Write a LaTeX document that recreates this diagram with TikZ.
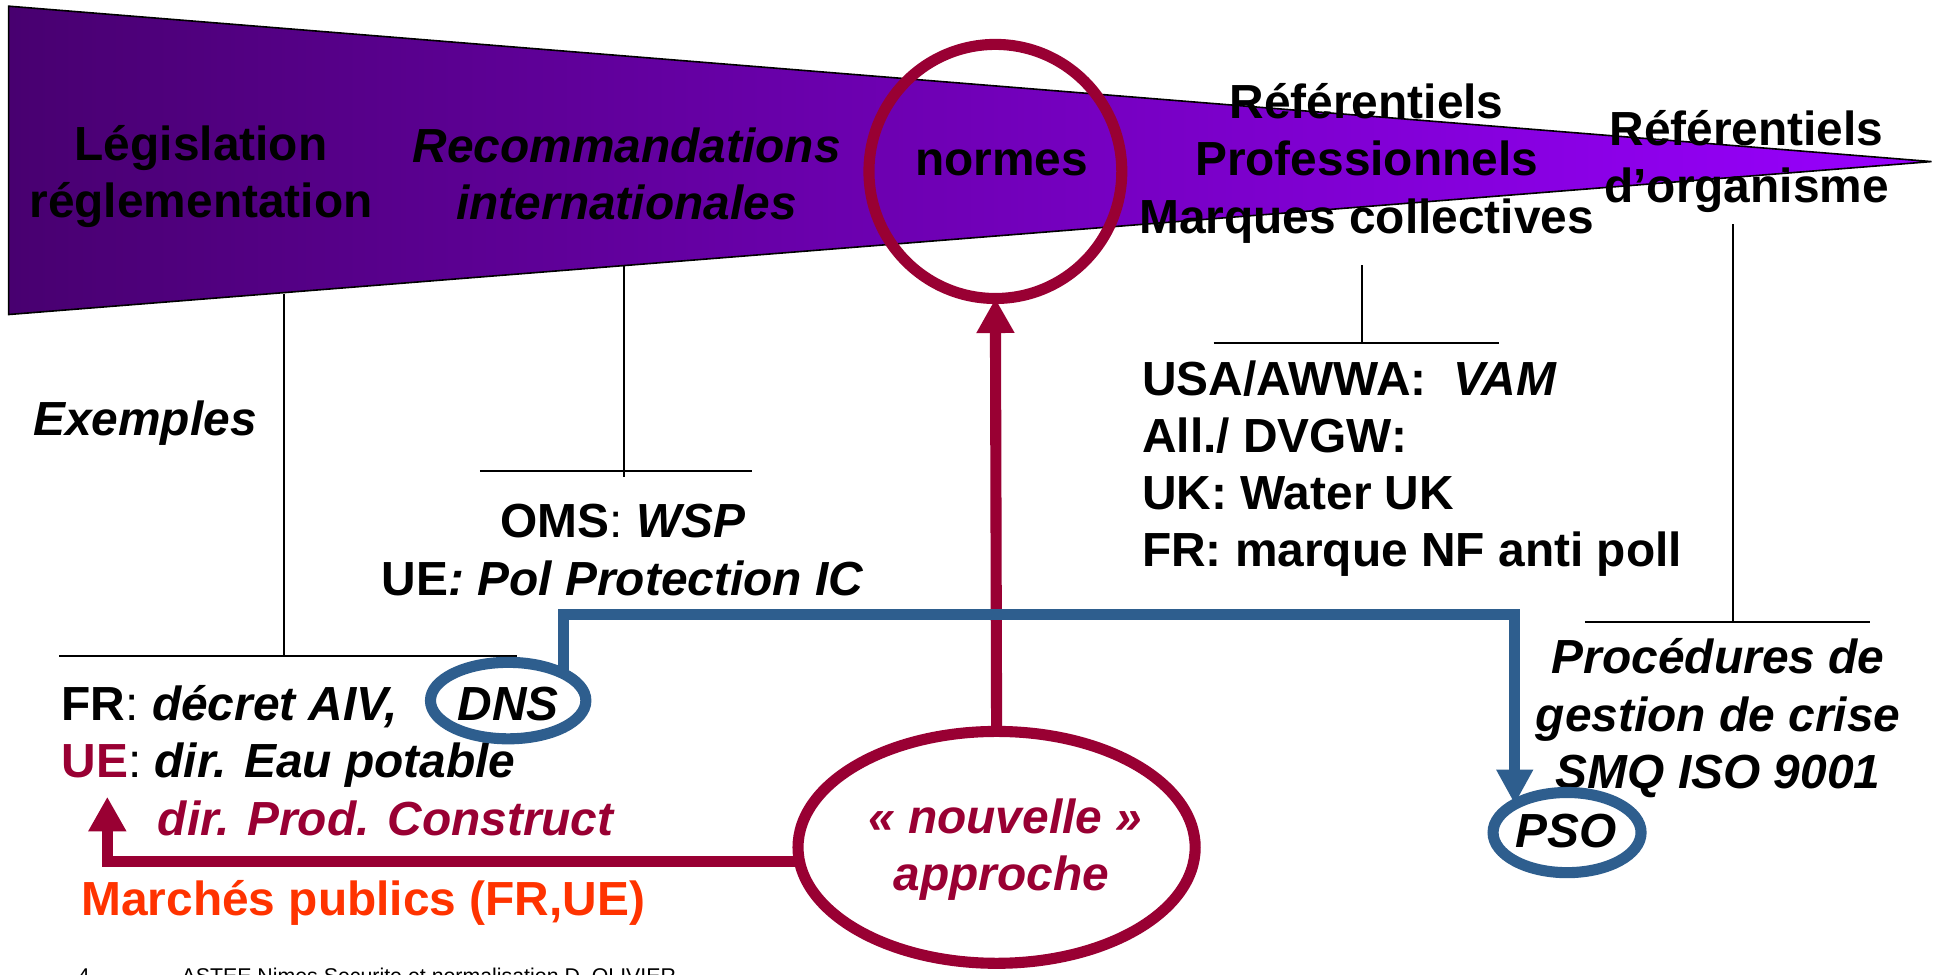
\documentclass[tikz,border=0pt]{standalone}
\usepackage{fontspec}
\setmainfont{Liberation Sans}
\usetikzlibrary{shapes.geometric,arrows.meta}
\definecolor{crim}{RGB}{153,0,51}
\definecolor{bl}{RGB}{46,94,142}
\definecolor{orng}{RGB}{255,51,0}
\definecolor{wl}{RGB}{72,0,112}
\definecolor{wr}{RGB}{153,0,255}
\tikzset{
  lbl/.style={inner sep=0pt, outer sep=0pt, anchor=base, font=\fontsize{38.8pt}{46pt}\selectfont\bfseries},
  lbli/.style={lbl, font=\fontsize{38.8pt}{46pt}\selectfont\bfseries\itshape},
  lbll/.style={lbl, anchor=base west},
  lblli/.style={lbli, anchor=base west},
  ring/.style={ellipse, draw, line width=9pt, inner sep=0pt, outer sep=0pt},
  leader/.style={draw=black, line width=1.5pt},
  redarrow/.style={draw=crim, line width=9pt, -{Triangle[length=28pt,width=29pt]}},
  bluearrow/.style={draw=bl, line width=9pt, -{Triangle[length=28pt,width=28pt]}}
}
\begin{document}
\begin{tikzpicture}[x=1pt,y=-1pt]
\useasboundingbox (0,0) rectangle (1568,790);
\fill[white] (0,0) rectangle (1568,790);
% wedge
\shadedraw[left color=wl, right color=wr, draw=black, line width=1.3pt] (7,5) -- (1566,131) -- (7,255) -- cycle;
% normes ring
\node[ring, draw=crim, minimum width=205pt, minimum height=206pt] (normes) at (807,139) {};
% wedge texts
\node[lbl] (leg1) at (163,130) {Législation};
\node[lbl] (leg2) at (163,176) {réglementation};
\node[lbli] (rec1) at (508,132) {Recommandations};
\node[lbli] (rec2) at (508,178) {internationales};
\node[lbl] (norm) at (812,142) {normes};
\node[lbl] (rp1) at (1108,96) {Référentiels};
\node[lbl] (rp2) at (1108,142) {Professionnels};
\node[lbl] (rp3) at (1108,189) {Marques collectives};
\node[lbl] (ro1) at (1416,118) {Référentiels};
\node[lbl] (ro2) at (1416,164) {d’organisme};
% leader lines
\draw[leader] (230,238) -- (230,532);
\draw[leader] (48,532) -- (419,532);
\draw[leader] (506,215) -- (506,387);
\draw[leader] (389,382) -- (610,382);
\draw[leader] (1104,215) -- (1104,278);
\draw[leader] (984,278) -- (1215,278);
\draw[leader] (1405,182) -- (1405,505);
\draw[leader] (1285,504) -- (1516,504);
% example texts
\node[lblli] (ex) at (27,353) {Exemples};
\node[lbl] (oms) at (505,436) {OMS{\mdseries:} \textit{WSP}};
\node[lbl] (uepol) at (505,483) {UE\textit{: Pol Protection IC}};
\node[lbll] (usa) at (926,321) {USA/AWWA:\ \ \textit{VAM}};
\node[lbll] (all) at (926,367) {All./ DVGW:};
\node[lbll] (uk) at (926,413) {UK: Water UK};
\node[lbll] (frm) at (926,459) {FR: marque NF anti poll};
\node[lbli] (pr1) at (1393,546) {Procédures de};
\node[lbli] (pr2) at (1393,593) {gestion de crise};
\node[lbli] (pr3) at (1393,639) {SMQ ISO 9001};
\node[lbll] (fr) at (50,584) {FR{\mdseries:} \textit{décret AIV,}};
\node[lbll] (ue) at (50,630) {\textcolor{crim}{UE}{\mdseries:} \textit{dir. Eau potable}};
\node[lblli, text=crim] (prod) at (128,677) {dir. Prod. Construct};
\node[lbll, text=orng] (mar) at (66,742) {Marchés publics (FR,UE)};
% rings
\node[ring, draw=crim, fill=white, minimum width=322pt, minimum height=188pt] (nouv) at (808,687) {};
\node[ring, draw=bl, minimum width=126pt, minimum height=62pt] (dns) at (412,568) {};
\node[ring, draw=bl, minimum width=120pt, minimum height=65pt] (pso) at (1270.5,675) {};
\node[lbli] (dnst) at (412,584) {DNS};
\node[lbli] (psot) at (1270,687) {PSO};
\node[lbli, text=crim] (nv1) at (815,676) {« nouvelle »};
\node[lbli, text=crim] (nv2) at (812,722) {approche};
% connectors
\coordinate (uetip) at (87,646);
\coordinate (bj) at (0,498);
\draw[redarrow] (nouv.north) -- (normes.south);
\draw[redarrow] (nouv.184) -| (uetip);
\draw[bluearrow] (dns.north east) -- (dns.north east |- bj) -| (pso.north west);
% footer
\node[inner sep=0pt, anchor=base west, font=\fontsize{17.3pt}{20pt}\selectfont] (pg) at (63,797.5) {4};
\node[inner sep=0pt, anchor=base west, font=\fontsize{17.3pt}{20pt}\selectfont] (foot) at (147,797.5) {ASTEE Nimes Securite et normalisation D. OLIVIER};
\end{tikzpicture}
\end{document}
